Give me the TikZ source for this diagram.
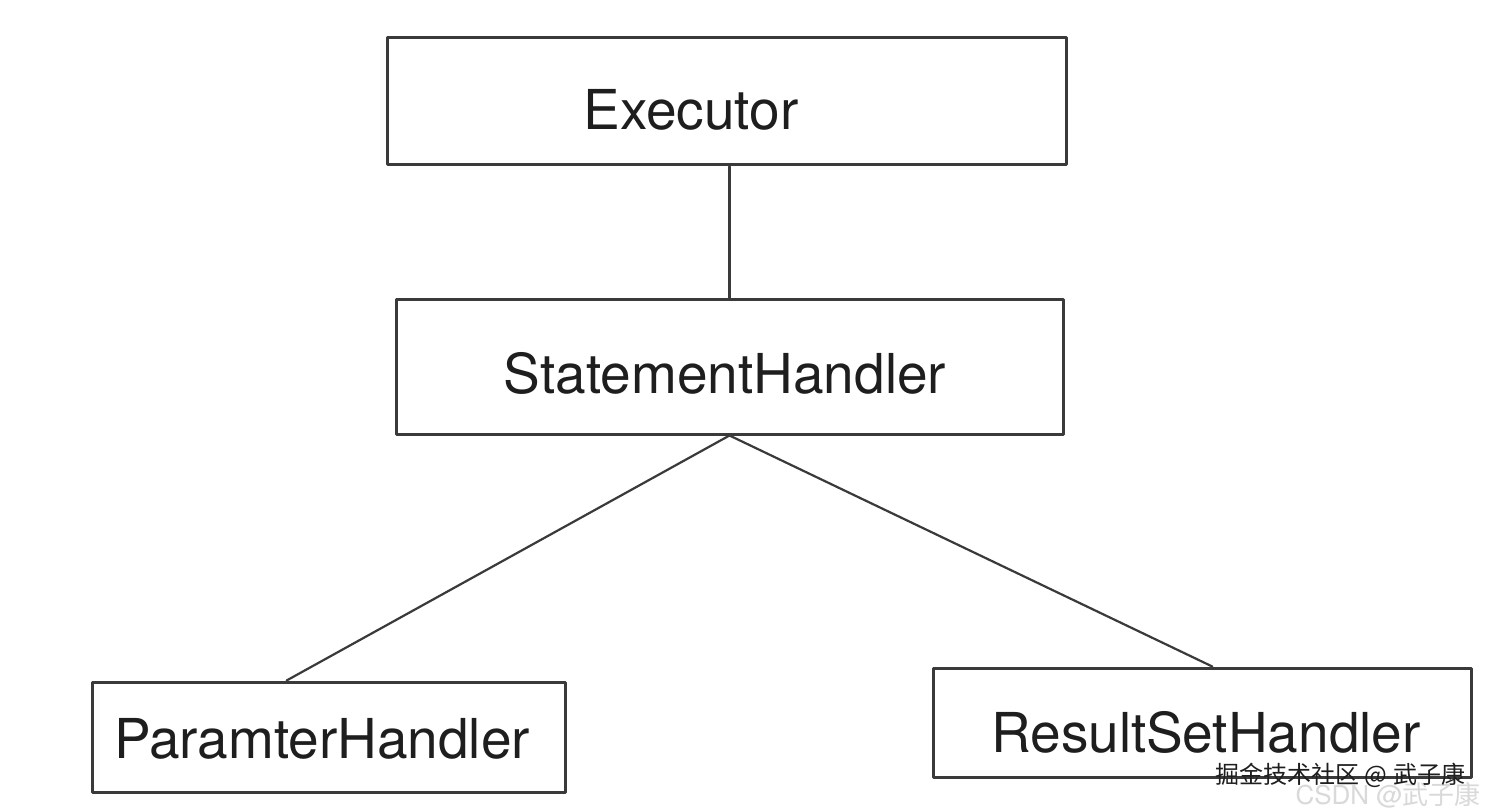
\documentclass[tikz,border=0pt]{standalone}
\usepackage{fontspec}
\setmainfont{TeX Gyre Heros}
\newfontfamily\cjkfont{Noto Sans CJK SC}
\usetikzlibrary{calc}
\definecolor{FigureLine}{HTML}{3A3A3A}
\definecolor{FigureText}{HTML}{1E1E1E}

\begin{document}
\begin{tikzpicture}[x=1pt,y=-1pt,line cap=round,line join=round,
  box/.style={draw=FigureLine,line width=3pt,fill=white,inner sep=0pt},
  boxtext/.style={anchor=base,inner sep=0pt,text=FigureText,font=\fontsize{55}{60}\selectfont}]
  \useasboundingbox[fill=white] (0,0) rectangle (1500,810);
  \node[box,minimum width=679pt,minimum height=127pt] (exec) at (726.5,101.5) {};
  \node[box,minimum width=667pt,minimum height=134pt] (sh) at (729.5,367) {};
  \node[box,minimum width=473pt,minimum height=110pt] (ph) at (328.5,737) {};
  \node[box,minimum width=538pt,minimum height=109pt] (rs) at (1202,722.5) {};
  \node[boxtext] (exectext) at (691,130) {Executor};
  \node[boxtext] (shtext) at (725,393) {StatementHandler};
  \node[boxtext] (phtext) at (322,758) {ParamterHandler};
  \node[boxtext] (rstext) at (1206,752) {ResultSetHandler};
  \coordinate (phtop) at ($(ph.north west)!.412!(ph.north east)$);
  \coordinate (rstop) at ($(rs.north west)!.519!(rs.north east)$);
  \draw[FigureLine,line width=2.2pt] (exec.south -| sh.north) -- (sh.north);
  \draw[FigureLine,line width=2.2pt] (sh.south) -- (phtop) (sh.south) -- (rstop);
  % watermarks
  \node[text=gray!30,font=\fontsize{26}{28}\selectfont,anchor=west] (csdn) at (1292,795) {CSDN @\cjkfont 武子康};
  \node[text=FigureText,font=\cjkfont\fontsize{24}{26}\selectfont,anchor=west] (juejin) at (1212,775) {掘金技术社区 @ 武子康};
\end{tikzpicture}
\end{document}
